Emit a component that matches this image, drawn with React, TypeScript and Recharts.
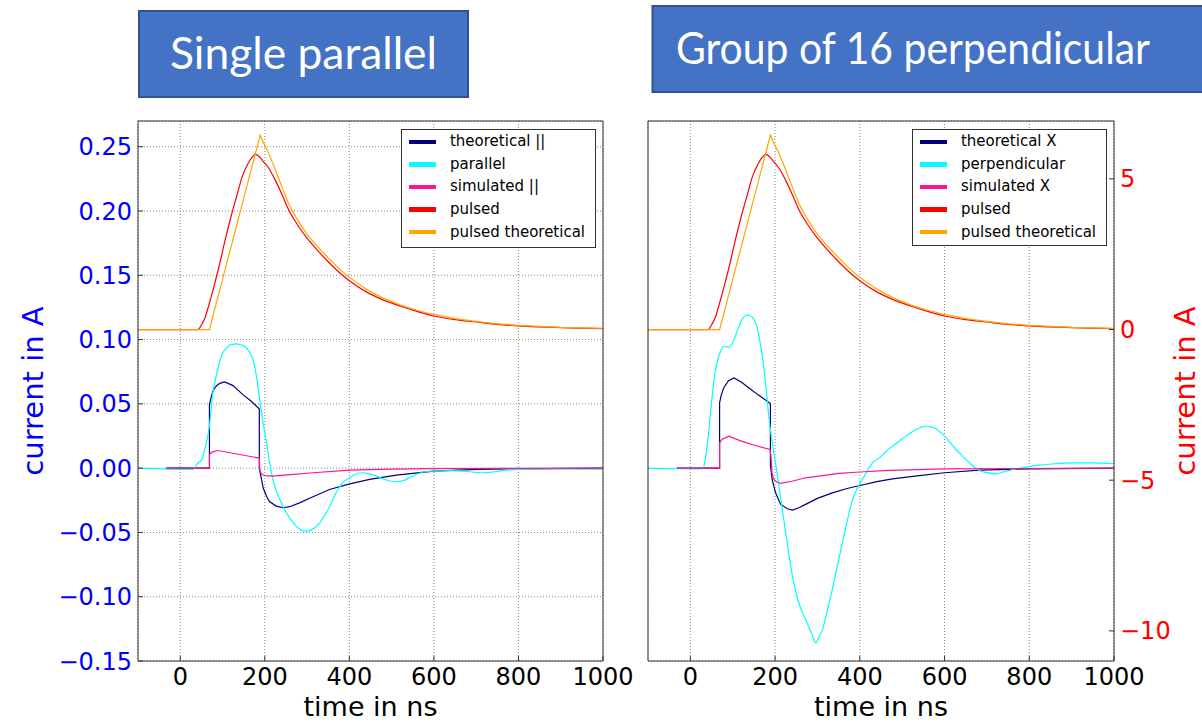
import { LineChart, Line, XAxis, YAxis, CartesianGrid, Legend, ReferenceLine } from 'recharts';

type Pt = [number, number];

const timeTicks = [0, 200, 400, 600, 800, 1000];
const currentTicks = [-0.15, -0.1, -0.05, 0, 0.05, 0.1, 0.15, 0.2, 0.25];
const pulsedTicks = [-10, -5, 0, 5];

// left panel, current in A (left axis)
const parallelTheory: Pt[] = [
  [-33, 0], [69, 0], [69, 0.0495], [73, 0.055], [77, 0.0598], [83, 0.063], [89, 0.065], [97, 0.0663],
  [105, 0.0671], [125, 0.0642], [148, 0.0572], [168, 0.052], [187, 0.046], [187, 0.0], [190, -0.005],
  [196, -0.0153], [204, -0.0218], [211, -0.026], [227, -0.0295], [243, -0.0308], [259, -0.030],
  [282, -0.027], [314, -0.0223], [353, -0.0166], [401, -0.0122], [448, -0.0088], [511, -0.0054],
  [600, -0.0023], [700, -0.001], [800, -0.0005], [1000, 0],
];
const parallelMeasured: Pt[] = [
  [-100, 0], [30, -0.001], [36, 0.001], [42, 0.004], [50, 0.006], [56, 0.012], [62, 0.02], [69, 0.033],
  [77, 0.0585], [85, 0.0715], [97, 0.087], [109, 0.0935], [121, 0.0962], [133, 0.0966], [145, 0.0957],
  [152, 0.095], [162, 0.091], [172, 0.0845], [180, 0.072], [188, 0.053], [196, 0.035], [204, 0.0197],
  [211, 0.005], [219, -0.0088], [235, -0.024], [251, -0.0347], [270, -0.0435], [285, -0.048],
  [296, -0.049], [310, -0.048], [330, -0.0425], [350, -0.032], [369, -0.019], [385, -0.011],
  [401, -0.0075], [415, -0.0045], [428, -0.0036], [445, -0.0042], [464, -0.006], [485, -0.009],
  [511, -0.0106], [530, -0.0095], [551, -0.006], [575, -0.003], [600, -0.0023], [640, -0.002],
  [669, -0.0023], [700, -0.0033], [716, -0.0036], [740, -0.003], [770, -0.0015], [800, -0.001],
  [850, -0.0005], [906, -0.0005], [950, -0.0008], [1000, -0.0005],
];
const parallelSimulated: Pt[] = [
  [-33, 0], [69, 0], [69, 0.0106], [75, 0.0125], [89, 0.0137], [187, 0.0078], [188, -0.0015],
  [192, -0.0045], [200, -0.0058], [219, -0.0062], [260, -0.005], [314, -0.0036], [401, -0.0016],
  [500, -0.0008], [600, -0.0003], [1000, 0],
];

// right panel, current in A (left axis)
const perpTheory: Pt[] = [
  [-32, 0], [69, 0], [69, 0.0508], [73, 0.057], [79, 0.0625], [90, 0.068], [103, 0.0702], [120, 0.067],
  [140, 0.062], [160, 0.057], [189, 0.0503], [189, 0.002], [193, -0.0088], [201, -0.019],
  [213, -0.0282], [229, -0.0316], [241, -0.0326], [255, -0.031], [272, -0.0282], [300, -0.0235],
  [335, -0.0192], [370, -0.0158], [400, -0.0135], [440, -0.0105], [477, -0.0083], [540, -0.0058],
  [600, -0.0036], [682, -0.0016], [800, -0.0005], [1000, 0],
];
const perpMeasured: Pt[] = [
  [-100, 0], [20, -0.0005], [30, -0.0005], [35, 0.0067], [43, 0.027], [49, 0.048], [55, 0.0664],
  [61, 0.079], [67, 0.087], [73, 0.092], [79, 0.0948], [85, 0.0945], [91, 0.094], [97, 0.096],
  [103, 0.1], [110, 0.106], [118, 0.113], [125, 0.117], [132, 0.119], [141, 0.1185], [150, 0.1156],
  [156, 0.111], [162, 0.1026], [168, 0.091], [174, 0.0767], [180, 0.058], [185, 0.0404], [191, 0.025],
  [197, 0.0119], [203, 0.0], [209, -0.014], [217, -0.032], [225, -0.05], [233, -0.068], [241, -0.084],
  [248, -0.095], [256, -0.1047], [264, -0.112], [272, -0.1176], [280, -0.124], [288, -0.13],
  [296, -0.1358], [304, -0.131], [312, -0.1254], [323, -0.111], [335, -0.0943], [347, -0.076],
  [359, -0.058], [371, -0.04], [383, -0.0244], [395, -0.015], [406, -0.0088], [418, -0.002],
  [430, 0.0041], [446, 0.008], [461, 0.0125], [477, 0.0171], [493, 0.021], [509, 0.0249],
  [521, 0.0277], [533, 0.0301], [545, 0.0318], [556, 0.0326], [568, 0.0321], [580, 0.0306],
  [590, 0.028], [600, 0.0249], [613, 0.02], [627, 0.0145], [643, 0.0092], [659, 0.0041],
  [670, 0.0008], [682, -0.0018], [700, -0.0035], [722, -0.0044], [746, -0.0023], [770, -0.0005],
  [793, 0.0008], [825, 0.0023], [860, 0.0034], [904, 0.0041], [951, 0.0041], [1000, 0.0034],
];
const perpSimulated: Pt[] = [
  [-32, 0], [69, 0], [69, 0.0197], [75, 0.0225], [91, 0.0249], [120, 0.021], [150, 0.018],
  [188, 0.0145], [190, 0.01], [193, -0.004], [197, -0.0088], [205, -0.011], [213, -0.0119],
  [240, -0.0102], [272, -0.0075], [320, -0.0055], [351, -0.0041], [400, -0.003], [469, -0.0018],
  [600, -0.0005], [1000, 0],
];

// pulsed current (right axis), same in both panels
const pulsedMeasured: Pt[] = [
  [-100, 0], [42, 0], [50, 0.15], [60, 0.45], [67, 0.78], [80, 1.45], [91, 2.05], [105, 2.9],
  [122, 3.85], [135, 4.5], [146, 5.05], [160, 5.5], [170, 5.72], [178, 5.81], [186, 5.75],
  [195, 5.6], [209, 5.36], [225, 4.95], [240, 4.5], [256, 3.98], [280, 3.42], [300, 3.03],
  [320, 2.7], [350, 2.25], [375, 1.91], [400, 1.62], [440, 1.25], [477, 1.0], [520, 0.78],
  [560, 0.6], [600, 0.45], [650, 0.33], [700, 0.25], [750, 0.17], [800, 0.12], [900, 0.06],
  [1000, 0.03],
];
const pulsedTheory: Pt[] = [
  [-100, 0], [69, 0], [189, 6.45], [200, 6.1], [209, 5.86], [225, 5.3], [240, 4.75], [256, 4.18],
  [280, 3.57], [300, 3.16], [320, 2.82], [350, 2.38], [375, 2.03], [400, 1.73], [440, 1.34],
  [477, 1.06], [520, 0.82], [560, 0.64], [600, 0.5], [650, 0.36], [700, 0.27], [750, 0.19],
  [800, 0.14], [900, 0.07], [1000, 0.04],
];

const leftNames = ['theoretical ||', 'parallel', 'simulated ||', 'pulsed', 'pulsed theoretical'];
const rightNames = ['theoretical X', 'perpendicular', 'simulated X', 'pulsed', 'pulsed theoretical'];
const COLORS = ['#000080', '#00ffff', '#ff1493', '#ff0000', '#ffa500'];

const FONT = 'DejaVu Sans';
const toObj = (pts: Pt[]) => pts.map(([t, v]) => ({ t, v }));
const fmtCurrent = (v: number) => v.toFixed(2).replace('-', '\u2212');
const fmtPulsed = (v: number) => String(v).replace('-', '\u2212');

function XTitle(props: any) {
  const vb = props.viewBox || { x: 0, y: 0, width: 0 };
  return (
    <text x={vb.x + vb.width / 2} y={716} textAnchor="middle" fontSize={27} fontFamily={FONT} fill="#000">
      time in ns
    </text>
  );
}

function YTitle(props: any) {
  const { baseX, tone } = props;
  const cy = 391;
  return (
    <text x={baseX} y={cy} transform={`rotate(-90 ${baseX} ${cy})`} textAnchor="middle" fontSize={29} fontFamily={FONT} fill={tone}>
      current in A
    </text>
  );
}

function LegendBox({ names, height }: { names: string[]; height: number }) {
  return (
    <div style={{ width: 195, height, boxSizing: 'border-box', border: '1px solid #333', background: '#fff', paddingTop: 0.5 }}>
      {names.map((n, i) => (
        <div key={n} style={{ display: 'flex', alignItems: 'center', height: 22.6 }}>
          <span style={{ display: 'inline-block', marginLeft: 7.3, width: 27, height: 4.5, background: COLORS[i] }} />
          <span style={{ marginLeft: 14, fontSize: 15, fontFamily: FONT, color: '#000', lineHeight: 1, whiteSpace: 'nowrap' }}>{n}</span>
        </div>
      ))}
    </div>
  );
}

interface PanelProps {
  left: number;
  width: number;
  leftW: number;
  rightW: number;
  names: string[];
  currents: Pt[][];
  showLeft: boolean;
  showRight: boolean;
  legendLeft: number;
  legendHeight: number;
}

function Panel({ left, width, leftW, rightW, names, currents, showLeft, showRight, legendLeft, legendHeight }: PanelProps) {
  const pulsed = [pulsedMeasured, pulsedTheory];
  return (
    <div style={{ position: 'absolute', left, top: 0 }}>
      <LineChart width={width} height={723} margin={{ top: 121, right: 0, bottom: 0, left: 0 }}>
        <CartesianGrid yAxisId="l" stroke="#888" strokeDasharray="1 2" />
        <XAxis
          type="number"
          dataKey="t"
          domain={[-100, 1000]}
          ticks={timeTicks}
          allowDataOverflow
          height={62}
          stroke="#333"
          tickSize={-5}
          tickMargin={12}
          tick={{ fill: '#000', fontSize: 24, fontFamily: FONT }}
          label={<XTitle />}
        />
        <YAxis
          yAxisId="l"
          orientation="left"
          type="number"
          domain={[-0.15, 0.27]}
          ticks={currentTicks}
          allowDataOverflow
          width={leftW}
          stroke="#333"
          tickSize={-5}
          tickMargin={11}
          tick={showLeft ? { fill: '#0000ff', fontSize: 24, fontFamily: FONT } : false}
          tickFormatter={fmtCurrent}
          label={showLeft ? <YTitle baseX={43} tone="#0000ff" /> : undefined}
        />
        <YAxis
          yAxisId="r"
          orientation="right"
          type="number"
          domain={[-11.0, 6.92]}
          ticks={pulsedTicks}
          allowDataOverflow
          width={rightW}
          stroke="#333"
          tickSize={-5}
          tickMargin={11}
          tick={showRight ? { fill: '#ff0000', fontSize: 24, fontFamily: FONT } : false}
          tickFormatter={fmtPulsed}
          label={showRight ? <YTitle baseX={width - 7} tone="#ff0000" /> : undefined}
        />
        <ReferenceLine yAxisId="l" y={0.27} stroke="#333" />
        {currents.map((pts, i) => (
          <Line
            key={names[i]}
            yAxisId="l"
            data={toObj(pts)}
            dataKey="v"
            name={names[i]}
            type={i === 1 ? 'monotone' : 'linear'}
            stroke={COLORS[i]}
            strokeWidth={1.2}
            dot={false}
            isAnimationActive={false}
          />
        ))}
        {pulsed.map((pts, i) => (
          <Line
            key={names[i + 3]}
            yAxisId="r"
            data={toObj(pts)}
            dataKey="v"
            name={names[i + 3]}
            type={i === 0 ? 'monotone' : 'linear'}
            stroke={COLORS[i + 3]}
            strokeWidth={1.2}
            dot={false}
            isAnimationActive={false}
          />
        ))}
        <Legend
          layout="vertical"
          align="center"
          verticalAlign="middle"
          wrapperStyle={{ left: legendLeft, top: 129, width: 195 }}
          content={() => <LegendBox names={names} height={legendHeight} />}
        />
      </LineChart>
    </div>
  );
}

export default function App() {
  return (
    <div style={{ position: 'absolute', left: 0, top: 0, width: 1202, height: 723, background: '#fff', overflow: 'hidden' }}>
      <svg width={1202} height={723} style={{ position: 'absolute', left: 0, top: 0 }}>
        <rect x={139} y={11} width={329} height={86} fill="#4472c4" stroke="#2f528f" strokeWidth={2} />
        <text x={170} y={69} fill="#fff" fontSize={44} fontFamily="Lato" textLength={267} lengthAdjust="spacingAndGlyphs">
          Single parallel
        </text>
        <rect x={652.5} y={6} width={560} height={86} fill="#4472c4" stroke="#2f528f" strokeWidth={2} />
        <text x={676} y={63.5} fill="#fff" fontSize={44} fontFamily="Lato" textLength={474} lengthAdjust="spacingAndGlyphs">
          Group of 16 perpendicular
        </text>
      </svg>
      <Panel
        left={0}
        width={640}
        leftW={138}
        rightW={37}
        names={leftNames}
        currents={[parallelTheory, parallelMeasured, parallelSimulated]}
        showLeft
        showRight={false}
        legendLeft={400.7}
        legendHeight={119}
      />
      <Panel
        left={608}
        width={594}
        leftW={40}
        rightW={88}
        names={rightNames}
        currents={[perpTheory, perpMeasured, perpSimulated]}
        showLeft={false}
        showRight
        legendLeft={303.7}
        legendHeight={117}
      />
    </div>
  );
}
